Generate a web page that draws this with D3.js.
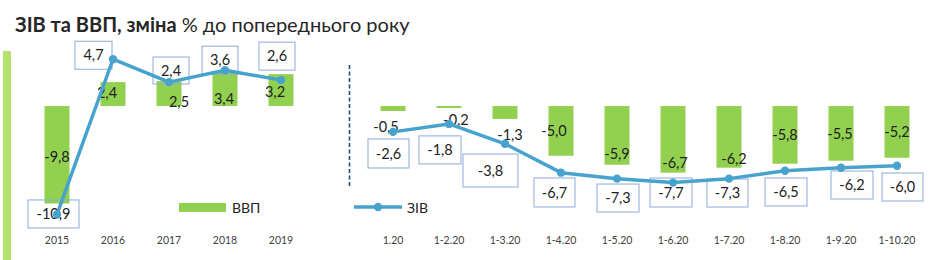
<!DOCTYPE html>
<html>
<head>
<meta charset="utf-8">
<script src="https://cdn.jsdelivr.net/npm/d3@7"></script>
<style>
  html, body { margin: 0; padding: 0; background: #fff; }
  svg { display: block; font-family: Lato, "Open Sans", sans-serif; }
</style>
</head>
<body>
<svg id="chart" width="939" height="260"></svg>
<script>
// ---------- data ----------
const yearCats = ["2015", "2016", "2017", "2018", "2019"];
const gdpYears = [-9.8, 2.4, 2.5, 3.4, 3.2];
const zivYears = [-10.9, 4.7, 2.4, 3.6, 2.6];

const monthCats = ["1.20", "1-2.20", "1-3.20", "1-4.20", "1-5.20", "1-6.20", "1-7.20", "1-8.20", "1-9.20", "1-10.20"];
const gdpMonths = [-0.5, -0.2, -1.3, -5.0, -5.9, -6.7, -6.2, -5.8, -5.5, -5.2];
const zivMonths = [-2.6, -1.8, -3.8, -6.7, -7.3, -7.7, -7.3, -6.5, -6.2, -6.0];

const titleBold = "ЗІВ та ВВП, зміна";
const titleRest = " % до попереднього року";
const gdpName = "ВВП";
const zivName = "ЗІВ";

// ---------- layout (label placement, as in reference) ----------
// ЗІВ boxed labels: [dx, dy, w, h] of box centre relative to point
const zivYearBox = [[-3.5, -0.5, 51, 28], [-19.5, -4, 37, 28], [2, -11.6, 36, 27], [-5, -10, 36, 28], [-4, -24, 36, 28]];
const zivMonthBox = [[-4.5, 21.6, 41, 29], [-9, 26, 42, 28], [-14.5, 26.7, 55, 33], [-6.5, 19.8, 41, 29], [1, 19.4, 42, 28],
                     [-2, 9.9, 42, 29], [-1.5, 14.4, 41, 28], [1, 21.3, 42, 28], [11, 17.3, 42, 28], [5.5, 21.3, 41, 28]];
// ВВП bar labels: [dx, dy] relative to bar end
const gdpYearLab = [[0, -46.5], [-6, 11], [10, 21], [-1, 27], [-6, 18]];
const gdpMonthLab = [[-7, 16], [7, 12], [5, 16], [-7, -25], [0, -11], [2, -10], [5, -9], [0, -29], [-1, -27], [0, -26]];

const GREEN = "#92D050", BLUE = "#47A3CE", BOX = "#8EA9DB", TXT = "#222222";

const svg = d3.select("#chart");

// scales
const y = d3.scaleLinear().domain([-10, 0]).range([205.5, 106]);
const xL = d3.scalePoint().domain(yearCats).range([57, 281]);
const xR = d3.scalePoint().domain(monthCats).range([393, 897]);
const barW = 25;

// title
const title = svg.append("text").attr("x", 15).attr("y", 32)
  .attr("font-size", 20).attr("fill", "#262626");
title.append("tspan").attr("font-weight", "bold").text(titleBold);
title.append("tspan").text(titleRest);

// decorative left strip
svg.append("rect").attr("x", 3).attr("y", 51).attr("width", 8).attr("height", 209).attr("fill", "#B5E26C");

// dashed separator
svg.append("line").attr("x1", 349.5).attr("x2", 349.5).attr("y1", 65).attr("y2", 187)
  .attr("stroke", "#1F4E79").attr("stroke-width", 1.6).attr("stroke-dasharray", "4,2.5");

function panel(cats, x, gdp, ziv, boxes, labs) {
  const g = svg.append("g");
  // bars
  g.selectAll("rect.bar").data(gdp).join("rect").attr("class", "bar")
    .attr("x", (d, i) => x(cats[i]) - barW / 2)
    .attr("y", d => Math.min(y(d), y(0)))
    .attr("width", barW)
    .attr("height", d => Math.abs(y(d) - y(0)))
    .attr("fill", GREEN);
  // boxes (no fill)
  g.selectAll("rect.box").data(ziv).join("rect").attr("class", "box")
    .attr("x", (d, i) => x(cats[i]) + boxes[i][0] - boxes[i][2] / 2)
    .attr("y", (d, i) => y(d) + boxes[i][1] - boxes[i][3] / 2)
    .attr("width", (d, i) => boxes[i][2])
    .attr("height", (d, i) => boxes[i][3])
    .attr("fill", "none").attr("stroke", BOX).attr("stroke-width", 1);
  const fmt = v => v.toFixed(1).replace(".", ",");
  // box text
  g.selectAll("text.zl").data(ziv).join("text").attr("class", "zl")
    .attr("x", (d, i) => x(cats[i]) + boxes[i][0])
    .attr("y", (d, i) => y(d) + boxes[i][1])
    .attr("dy", "0.36em").attr("text-anchor", "middle")
    .attr("font-size", 14.5).attr("fill", TXT).text(fmt);
  // bar labels
  g.selectAll("text.gl").data(gdp).join("text").attr("class", "gl")
    .attr("x", (d, i) => x(cats[i]) + labs[i][0])
    .attr("y", (d, i) => y(d) + labs[i][1])
    .attr("dy", "0.36em").attr("text-anchor", "middle")
    .attr("font-size", 14.5).attr("fill", TXT).text(fmt);
  // line
  const line = d3.line().x((d, i) => x(cats[i])).y(d => y(d));
  g.append("path").datum(ziv).attr("d", line)
    .attr("fill", "none").attr("stroke", BLUE).attr("stroke-width", 3.5).attr("stroke-linejoin", "round");
  g.selectAll("circle").data(ziv).join("circle")
    .attr("cx", (d, i) => x(cats[i])).attr("cy", d => y(d)).attr("r", 4.2).attr("fill", BLUE);
  // category labels
  g.selectAll("text.cat").data(cats).join("text").attr("class", "cat")
    .attr("x", d => x(d)).attr("y", 240).attr("dy", "0.36em").attr("text-anchor", "middle")
    .attr("font-size", 10.5).attr("fill", "#404040").text(d => d);
}

panel(yearCats, xL, gdpYears, zivYears, zivYearBox, gdpYearLab);
panel(monthCats, xR, gdpMonths, zivMonths, zivMonthBox, gdpMonthLab);

// legends
svg.append("rect").attr("x", 179).attr("y", 203).attr("width", 47).attr("height", 9).attr("fill", GREEN);
svg.append("text").attr("x", 232).attr("y", 207.5).attr("dy", "0.36em").attr("font-size", 14).attr("fill", TXT).text(gdpName);
svg.append("line").attr("x1", 354).attr("x2", 402).attr("y1", 207).attr("y2", 207).attr("stroke", BLUE).attr("stroke-width", 3.5);
svg.append("circle").attr("cx", 378).attr("cy", 207).attr("r", 4.2).attr("fill", BLUE);
svg.append("text").attr("x", 407).attr("y", 207.5).attr("dy", "0.36em").attr("font-size", 14).attr("fill", TXT).text(zivName);
</script>
</body>
</html>
